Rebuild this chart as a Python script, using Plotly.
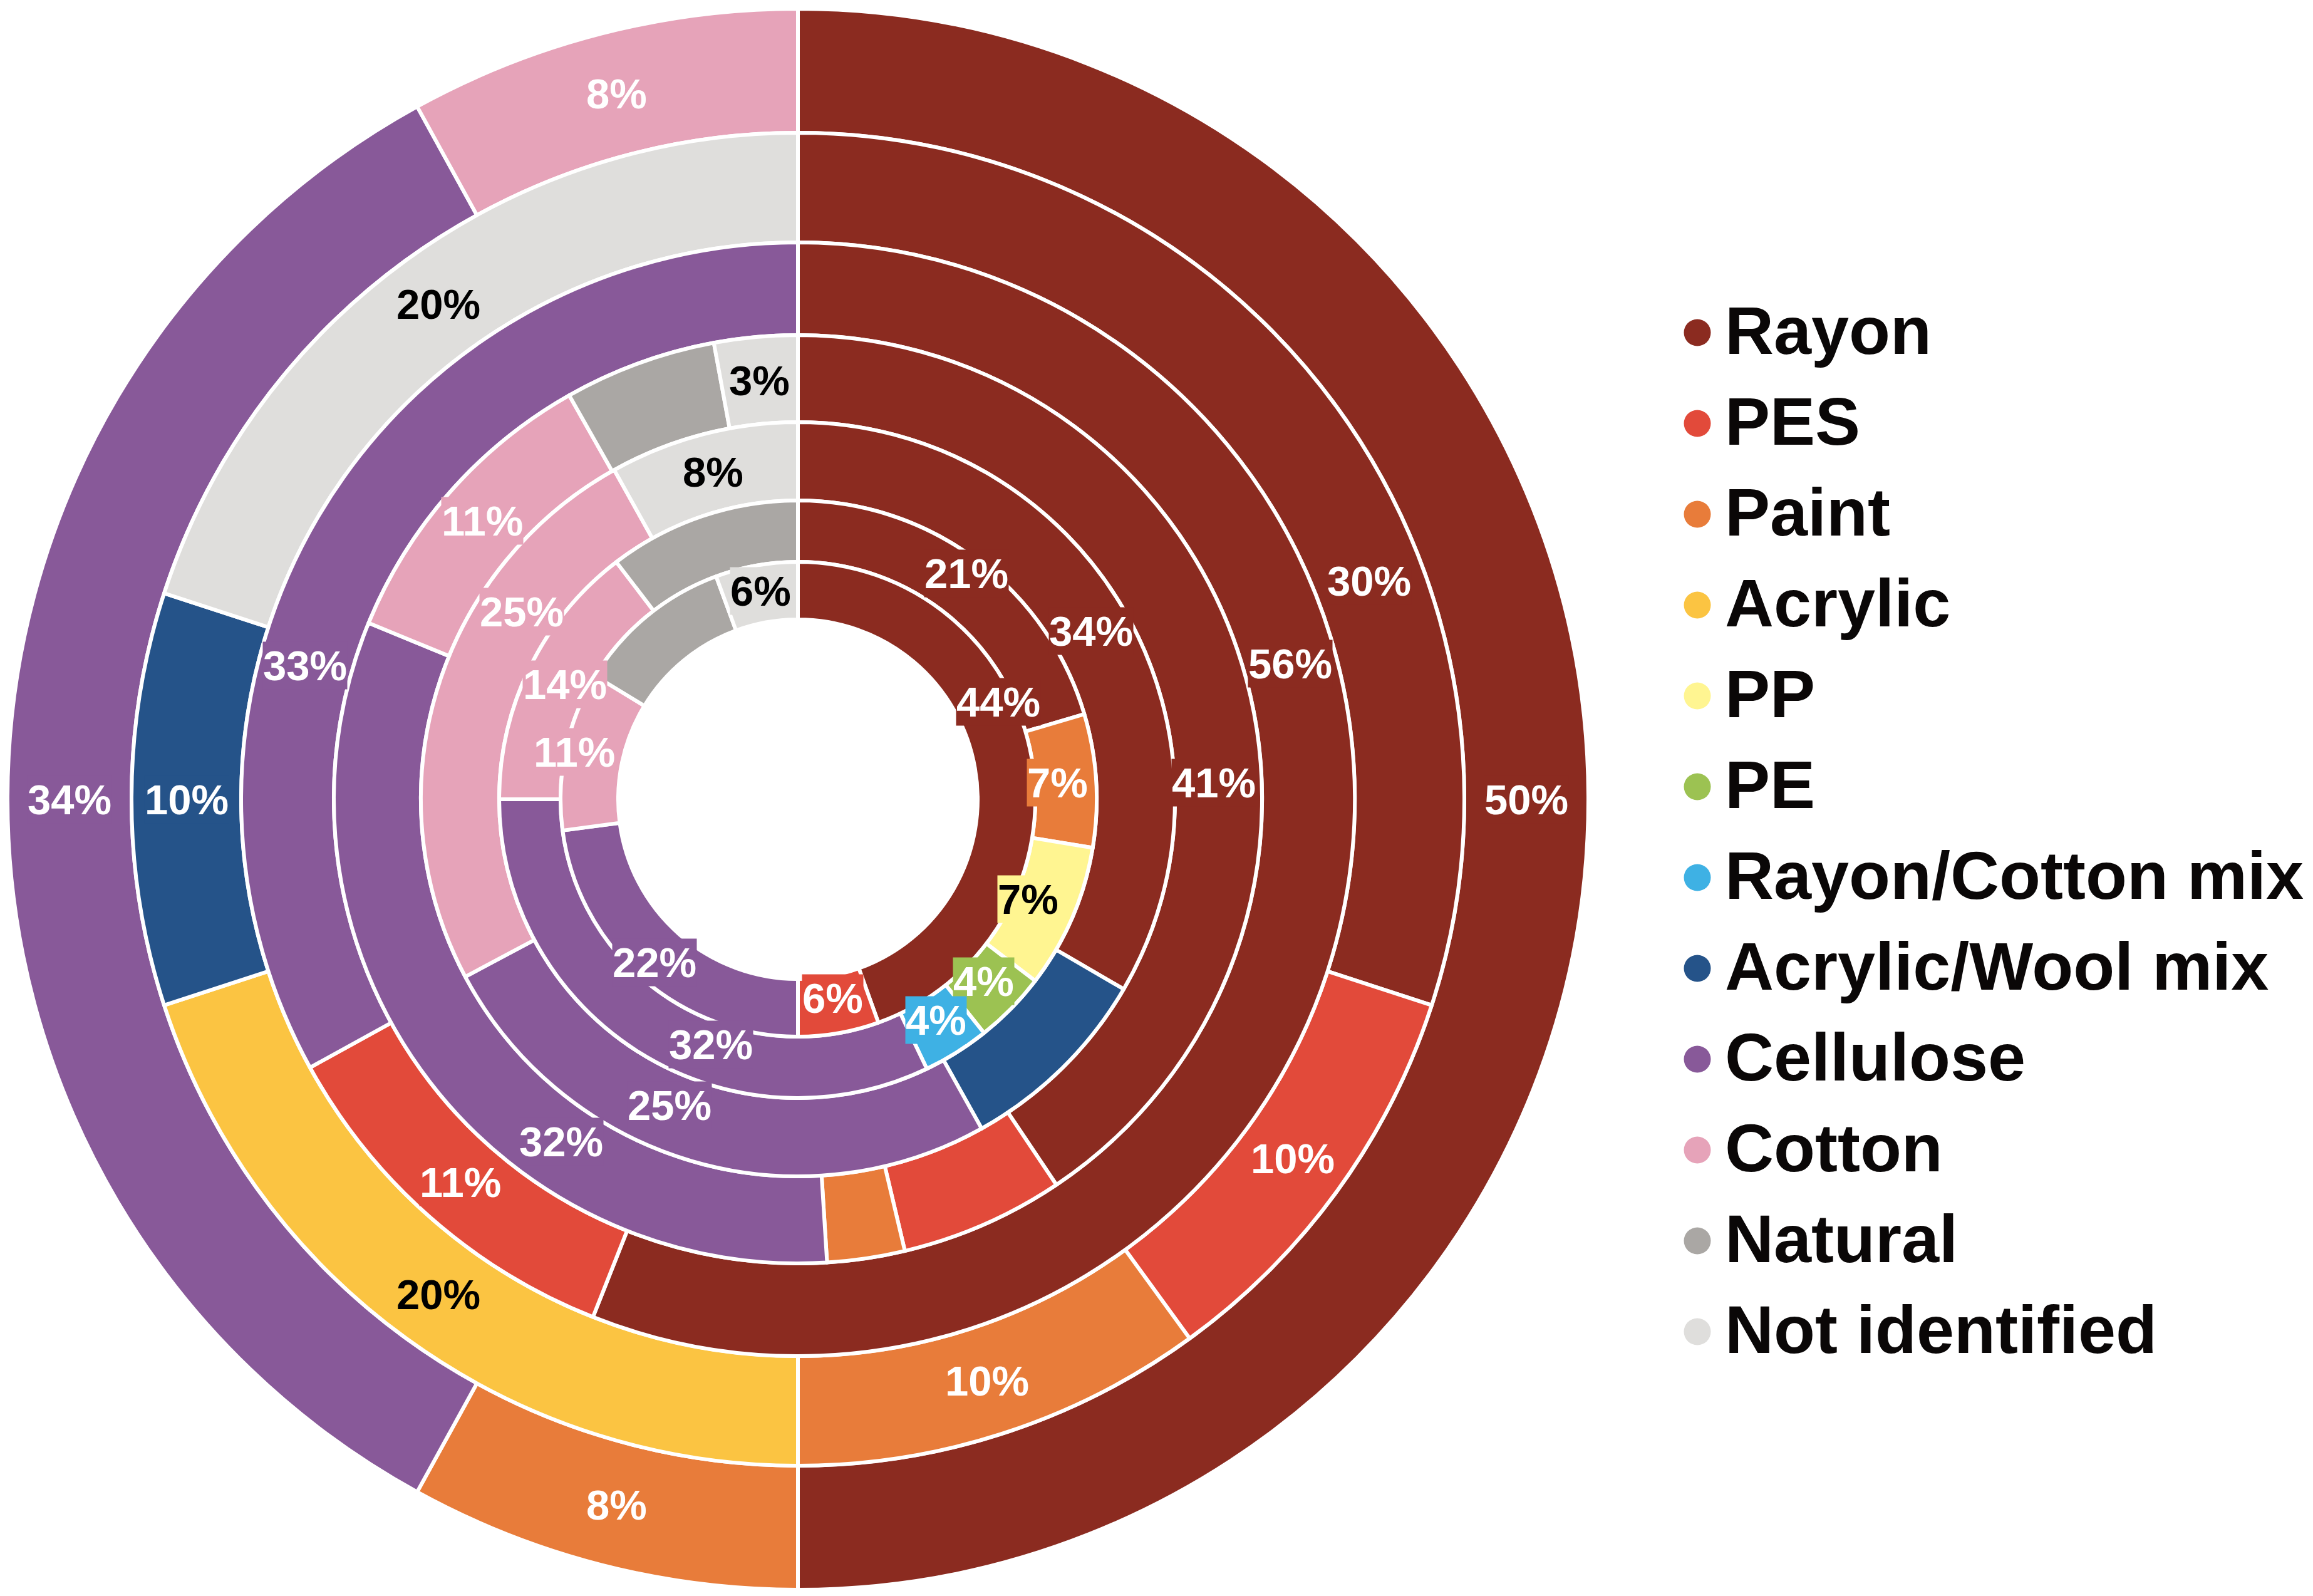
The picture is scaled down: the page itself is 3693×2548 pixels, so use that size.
import math
import plotly.graph_objects as go

# fibre categories and their colours (legend order)
categories = ["Rayon", "PES", "Paint", "Acrylic", "PP", "PE", "Rayon/Cotton mix",
              "Acrylic/Wool mix", "Cellulose", "Cotton", "Natural", "Not identified"]
colors = ["#8B2B20", "#E24A3A", "#E87C3A", "#FBC442", "#FFF591", "#9CC252", "#3EB1E4",
          "#255389", "#885999", "#E6A3B9", "#AAA7A4", "#DFDEDC"]
dark_text = ["Acrylic", "PP", "Not identified"]

# rings from the outside in, slices clockwise from 12 o'clock
ring1_labels = ["Rayon", "Paint", "Cellulose", "Cotton"]
ring1_values = [50, 8, 34, 8]
ring1_text = ["50%", "8%", "34%", "8%"]

ring2_labels = ["Rayon", "PES", "Paint", "Acrylic", "Acrylic/Wool mix", "Not identified"]
ring2_values = [30, 10, 10, 20, 10, 20]
ring2_text = ["30%", "10%", "10%", "20%", "10%", "20%"]

ring3_labels = ["Rayon", "PES", "Cellulose"]
ring3_values = [56, 11, 33]
ring3_text = ["56%", "11%", "33%"]

ring4_labels = ["Rayon", "PES", "Paint", "Cellulose", "Cotton", "Natural", "Not identified"]
ring4_values = [40.6, 5.7, 2.7, 32.2, 10.6, 5.3, 2.9]
ring4_text = ["41%", "", "", "32%", "11%", "", "3%"]

ring5_labels = ["Rayon", "Acrylic/Wool mix", "Cellulose", "Cotton", "Not identified"]
ring5_values = [33.4, 8.5, 25.3, 24.7, 8.1]
ring5_text = ["34%", "", "25%", "25%", "8%"]

ring6_labels = ["Rayon", "Paint", "PP", "PE", "Rayon/Cotton mix", "Cellulose", "Cotton", "Natural"]
ring6_values = [20.4, 7.2, 7.8, 3.9, 3.6, 32.1, 14.6, 10.4]
ring6_text = ["21%", "7%", "7%", "4%", "4%", "32%", "14%", ""]

ring7_labels = ["Rayon", "PES", "Cellulose", "Cotton", "Natural", "Not identified"]
ring7_values = [44.5, 5.5, 22.9, 10.8, 10.7, 5.6]
ring7_text = ["44%", "6%", "22%", "11%", "", "6%"]

rings = [
    (ring1_labels, ring1_values, ring1_text),
    (ring2_labels, ring2_values, ring2_text),
    (ring3_labels, ring3_values, ring3_text),
    (ring4_labels, ring4_values, ring4_text),
    (ring5_labels, ring5_values, ring5_text),
    (ring6_labels, ring6_values, ring6_text),
    (ring7_labels, ring7_values, ring7_text),
]

# page geometry (pixels)
W, H = 3693, 2548
cx, cy = 1266, 1268
radii = [1262, 1064, 889, 741, 602, 477, 379, 287]

# where a label sits: (share along the slice, share across the ring)
ring_text_r = {6: 0.37, 7: 0.55}
label_pos = {
    (2, "Rayon"): (0.64, 0.5),
    (3, "Rayon"): (0.37, 0.5),
    (3, "Cellulose"): (0.37, 0.5),
    (4, "Rayon"): (0.60, 0.45),
    (4, "Cellulose"): (0.33, 0.45),
    (5, "Cellulose"): (0.57, 0.42),
    (5, "Cotton"): (0.70, 0.45),
    (6, "Rayon"): (0.5, 0.72),
    (6, "PP"): (0.5, 0.22),
    (6, "Cellulose"): (0.39, 0.37),
    (7, "Rayon"): (0.40, 0.75),
    (7, "PES"): (0.5, 0.38),
    (7, "Cellulose"): (0.5, 0.65),
    (7, "Cotton"): (0.5, 0.85),
}

color_of = dict(zip(categories, colors))
font = "Liberation Sans, Arial, Helvetica, sans-serif"

fig = go.Figure()
annotations = []

for i, (labels, values, texts) in enumerate(rings):
    ring_no = i + 1
    r_out, r_in = radii[i], radii[i + 1]
    fig.add_trace(go.Pie(
        labels=labels, values=values,
        marker=dict(colors=[color_of[c] for c in labels], line=dict(color="white", width=6)),
        hole=r_in / r_out,
        sort=False, direction="clockwise", rotation=0,
        textinfo="none", hoverinfo="skip", showlegend=False,
        domain=dict(x=[(cx - r_out) / W, (cx + r_out) / W],
                    y=[(H - cy - r_out) / H, (H - cy + r_out) / H]),
    ))
    total = sum(values)
    start = 0
    for lab, v, t in zip(labels, values, texts):
        along, across = label_pos.get((ring_no, lab), (0.5, ring_text_r.get(ring_no, 0.5)))
        theta = 2 * math.pi * (start + v * along) / total
        start += v
        if not t:
            continue
        r = r_in + (r_out - r_in) * across
        px_x = cx + r * math.sin(theta)
        px_y = cy - r * math.cos(theta)
        annotations.append(dict(
            x=px_x / W, y=1 - px_y / H, xref="paper", yref="paper",
            text=t, showarrow=False, xanchor="center", yanchor="middle",
            bgcolor=color_of[lab], borderpad=0,
            font=dict(family=font, size=67, weight="bold",
                      color="black" if lab in dark_text else "white"),
        ))

# legend built as a scatter column on the right
legend_top, legend_step = 523, 145
idx = list(range(len(categories)))
fig.add_trace(go.Scatter(
    x=[2702] * len(categories), y=idx, mode="markers",
    marker=dict(size=43, color=colors, line=dict(width=0)),
    hoverinfo="skip", showlegend=False, cliponaxis=False,
))
fig.add_trace(go.Scatter(
    x=[2746] * len(categories), y=[k + 0.05 for k in idx], mode="text", text=categories,
    textposition="middle right",
    textfont=dict(family=font, size=108, weight="bold", color="#0A0707"),
    hoverinfo="skip", showlegend=False, cliponaxis=False,
))

fig.update_layout(
    width=W, height=H,
    margin=dict(l=0, r=0, t=0, b=0, pad=0),
    paper_bgcolor="white", plot_bgcolor="rgba(0,0,0,0)",
    showlegend=False,
    annotations=annotations,
    xaxis=dict(visible=False, range=[0, W], domain=[0, 1], fixedrange=True),
    yaxis=dict(visible=False, domain=[0, 1], fixedrange=True,
               range=[(H - legend_top) / legend_step, -legend_top / legend_step]),
)

fig.write_html("out.html")
